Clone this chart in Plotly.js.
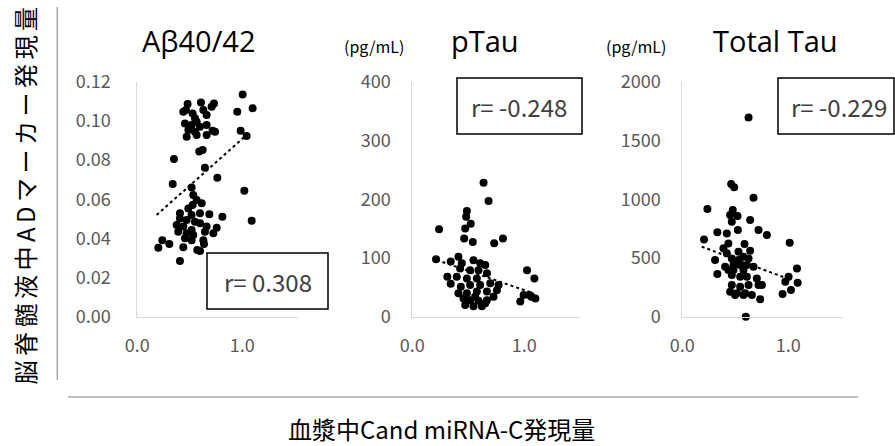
<!DOCTYPE html>
<html>
<head>
<meta charset="utf-8">
<script src="https://cdn.plot.ly/plotly-3.0.1.min.js"></script>
<style>html,body{margin:0;padding:0;background:#fff;}#chart{width:895px;height:446px;}</style>
</head>
<body>
<div id="chart"></div>
<script>
// ---- Data ----
const abX = [1.003,0.463,0.438,0.479,0.606,0.730,0.708,0.952,1.098,0.527,0.629,0.549,0.660,0.454,0.517,0.565,0.597,0.660,0.486,0.549,0.470,0.565,0.660,0.717,0.740,0.984,1.041,0.590,0.622,0.349,0.644,0.762,0.337,0.517,1.019,0.533,0.565,0.527,0.613,0.486,0.406,0.517,0.597,0.686,0.810,0.406,0.470,0.549,1.089,0.375,0.438,0.597,0.660,0.517,0.756,0.390,0.470,0.533,0.644,0.724,0.454,0.517,0.629,0.238,0.200,0.305,0.438,0.571,0.635,0.406,0.597];
const abY = [0.1135,0.1055,0.1047,0.1086,0.1094,0.1089,0.1072,0.1047,0.1064,0.1038,0.1055,0.1013,0.1030,0.0987,0.0979,0.0996,0.0970,0.0979,0.0953,0.0945,0.0919,0.0928,0.0928,0.0950,0.0945,0.0950,0.0923,0.0843,0.0851,0.0805,0.0761,0.0710,0.0677,0.0660,0.0643,0.0621,0.0596,0.0570,0.0579,0.0553,0.0528,0.0519,0.0528,0.0523,0.0511,0.0502,0.0494,0.0485,0.0490,0.0468,0.0460,0.0477,0.0460,0.0443,0.0454,0.0434,0.0426,0.0417,0.0434,0.0426,0.0400,0.0391,0.0391,0.0391,0.0352,0.0371,0.0354,0.0340,0.0371,0.0284,0.0335];

const ptX = [0.636,0.681,0.487,0.481,0.522,0.472,0.239,0.463,0.540,0.731,0.809,0.212,0.412,0.343,0.442,0.546,0.606,0.651,0.427,0.516,0.591,0.666,0.313,0.397,0.487,0.576,1.024,1.090,0.343,0.433,0.516,0.606,0.696,0.770,0.576,0.666,0.755,0.487,0.994,1.045,1.099,1.063,0.964,0.457,0.516,0.591,0.666,0.725,0.472,0.546,0.621,0.651,0.412,0.561];
const ptY = [228,197,180,170,158,150,149,133,127,125,133,98,102,94,91,96,91,88,82,79,79,74,68,68,65,65,79,65,56,51,54,54,57,54,43,43,45,40,37,37,31,34,26,31,28,27,28,34,20,18,18,23,40,34];

const ttX = [0.625,0.461,0.489,0.672,0.237,0.476,0.521,0.451,0.467,0.640,0.524,0.331,0.420,0.719,0.798,0.205,1.013,0.435,0.587,0.388,0.530,0.640,0.420,0.309,0.577,0.467,0.530,0.625,0.404,0.483,0.546,0.609,0.672,0.435,0.483,0.577,0.331,0.467,0.546,0.609,0.703,1.082,1.003,0.972,1.088,0.719,0.751,0.467,0.546,0.625,0.514,0.593,0.451,0.656,0.735,1.025,0.946,0.498,0.577,0.599];
const ttY = [1696,1129,1101,1013,916,908,857,865,809,823,738,718,709,738,695,658,630,624,618,582,553,562,539,482,511,496,482,496,426,440,440,440,426,397,397,397,363,355,340,340,326,411,340,298,289,270,270,270,255,270,199,199,213,184,148,227,193,184,184,0];

// trend line endpoints
const trendAbX = [0.184, 1.041], trendAbY = [0.0519, 0.0928];
const trendPtX = [0.218, 1.084], trendPtY = [96.5, 39.7];
const trendTtX = [0.183, 0.987], trendTtY = [596, 326];

const panelTitles = ["Aβ40/42", "pTau", "Total Tau"];
const unitLabel = "(pg/mL)";
const rLabels = ["r= 0.308", "r= -0.248", "r= -0.229"];
const xTickVals = [0, 1];
const xTickText = ["0.0", "1.0"];
const yTitle = "脳脊髄液中ADマーカー発現量";
const xTitle = "血漿中Cand miRNA-C発現量";

// ---- Layout helpers ----
const W = 895, H = 446;
const px = v => v / W;
const py = v => 1 - v / H;
const jp = "Noto Sans CJK JP, sans-serif";
const tickFont = {family: jp, size: 18, color: "#595959"};
const titleFont = {family: "Open Sans, sans-serif", size: 29, color: "#000"};

function scatter(x, y, xa, ya) {
  return {x: x, y: y, xaxis: xa, yaxis: ya, type: "scatter", mode: "markers",
    marker: {color: "#000", size: 8}, hoverinfo: "skip", cliponaxis: false};
}
function trend(x, y, xa, ya) {
  return {x: x, y: y, xaxis: xa, yaxis: ya, type: "scatter", mode: "lines",
    line: {color: "#000", width: 2, dash: "dot"}, hoverinfo: "skip"};
}

const data = [
  trend(trendAbX, trendAbY, "x", "y"),
  scatter(abX, abY, "x", "y"),
  trend(trendPtX, trendPtY, "x2", "y2"),
  scatter(ptX, ptY, "x2", "y2"),
  trend(trendTtX, trendTtY, "x3", "y3"),
  scatter(ttX, ttY, "x3", "y3")
];

const yDom = [py(316.7), py(81.7)];
function xaxis(d0, d1, range, anchor) {
  return {domain: [px(d0), px(d1)], range: range, anchor: anchor,
    showline: true, linecolor: "#d9d9d9", linewidth: 1, showgrid: false, zeroline: false,
    ticks: "", tickvals: xTickVals, ticktext: xTickText, tickfont: tickFont,
    ticklabelstandoff: 13, fixedrange: true};
}
function yaxis(range, dtick, fmt, anchor, standoff) {
  return {domain: yDom, range: range, anchor: anchor, dtick: dtick, tick0: 0, tickformat: fmt,
    showline: true, linecolor: "#d9d9d9", linewidth: 1, showgrid: false, zeroline: false,
    ticks: "", tickfont: tickFont, ticklabelstandoff: standoff, fixedrange: true};
}
function ann(text, x, y, font, extra) {
  return Object.assign({text: text, x: px(x), y: py(y), xref: "paper", yref: "paper",
    showarrow: false, font: font, xanchor: "center", yanchor: "middle"}, extra || {});
}

const rFont = {family: jp, size: 24, color: "#404040"};
const unitFont = {family: jp, size: 16, color: "#000"};

const layout = {
  width: W, height: H,
  margin: {l: 0, r: 0, t: 0, b: 0},
  paper_bgcolor: "#fff", plot_bgcolor: "rgba(0,0,0,0)",
  showlegend: false,
  xaxis: xaxis(137.3, 298, [0, 1.53], "y"),
  yaxis: yaxis([0, 0.12], 0.02, ".2f", "x", 22),
  xaxis2: xaxis(412.3, 580, [0, 1.497], "y2"),
  yaxis2: yaxis([0, 400], 100, "d", "x2", 17),
  xaxis3: xaxis(682.3, 843, [0, 1.516], "y3"),
  yaxis3: yaxis([0, 2000], 500, "d", "x3", 17),
  shapes: [
    {type: "line", xref: "paper", yref: "paper", x0: px(57.3), x1: px(57.3), y0: py(7), y1: py(380), line: {color: "#a6a6a6", width: 1.5}},
    {type: "line", xref: "paper", yref: "paper", x0: px(68), x1: px(858), y0: py(397), y1: py(397), line: {color: "#bfbfbf", width: 2}},
    {type: "rect", xref: "paper", yref: "paper", x0: px(207), x1: px(328), y0: py(309), y1: py(253), line: {color: "#000", width: 1.5}},
    {type: "rect", xref: "paper", yref: "paper", x0: px(457), x1: px(582), y0: py(134), y1: py(78), line: {color: "#000", width: 1.5}},
    {type: "rect", xref: "paper", yref: "paper", x0: px(778), x1: px(894), y0: py(134), y1: py(78), line: {color: "#000", width: 1.5}}
  ],
  annotations: [
    ann(panelTitles[0], 198.7, 40, titleFont),
    ann(panelTitles[1], 485, 40, titleFont),
    ann(panelTitles[2], 775, 40, titleFont),
    ann(unitLabel, 374, 46, unitFont),
    ann(unitLabel, 636, 46, unitFont),
    ann(rLabels[0], 267.5, 281.5, rFont),
    ann(rLabels[1], 519, 106.5, rFont),
    ann(rLabels[2], 839, 106.5, rFont),
    ann(xTitle, 441.7, 428.5, {family: jp, size: 24, color: "#000"}),
    ann(yTitle, 25, 194, {family: jp, size: 24, color: "#000"}, {textangle: -90})
  ]
};

Plotly.newPlot("chart", data, layout, {staticPlot: true, displayModeBar: false}).then(function () {
  document.querySelectorAll("#chart text.annotation-text").forEach(function (t) {
    if (t.textContent === yTitle) t.style.letterSpacing = "4.5px";
  });
});
</script>
</body>
</html>
